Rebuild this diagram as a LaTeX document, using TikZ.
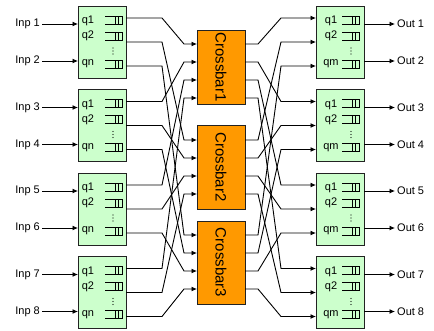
\documentclass[tikz,border=0pt]{standalone}
\usepackage{fontspec}
\setmainfont{Liberation Sans}
\usetikzlibrary{arrows.meta}
\definecolor{qgreen}{HTML}{CCFFCC}
\definecolor{xorange}{HTML}{FF9900}
\definecolor{edge}{HTML}{222222}
\begin{document}
\begin{tikzpicture}[x=1pt,y=-1pt,
  font=\fontsize{11}{13}\selectfont,
  qbox/.style={draw=edge, fill=qgreen, minimum width=48pt, minimum height=72pt,
    inner sep=0pt, outer sep=0pt, line width=0.8pt},
  xbar/.style={draw=edge, fill=xorange, minimum width=48pt,
    inner sep=0pt, outer sep=0pt, line width=0.8pt},
  qlab/.style={inner sep=0pt},
  feed/.style={line width=0.9pt, -{Latex[length=5.5pt,width=5pt]}},
  queue/.pic={
    \draw[line width=0.7pt] (-8.5,-4) -- (8.5,-4) -- (8.5,4) -- (-8.5,4);
    \draw[line width=0.7pt] (1.5,-4) -- (1.5,4) (5,-4) -- (5,4);
  },
  vdots/.pic={
    \fill (0,-3) circle (0.6) (0,0) circle (0.6) (0,3) circle (0.6);
  }
]
\useasboundingbox (0,0) rectangle (434,330);

% bend columns of the interconnect
\coordinate (bendL1) at (162,0);
\coordinate (bendL2) at (184,0);
\coordinate (bendR1) at (258,0);
\coordinate (bendR2) at (281,0);

% input and output switches with their queues
\foreach \i/\t in {1/6,2/89.5,3/173,4/256.5} {
  \node[qbox, anchor=north west] (L\i) at (78,\t) {};
  \node[qbox, anchor=north west] (R\i) at (316,\t) {};
  \node[qlab] (L\i-q1) at (88,\t+15) {q1};
  \node[qlab] (L\i-q2) at (88,\t+30) {q2};
  \node[qlab] (L\i-qn) at (88,\t+58) {qn};
  \node[qlab] (R\i-q1) at (331,\t+15) {q1};
  \node[qlab] (R\i-q2) at (331,\t+30) {q2};
  \node[qlab] (R\i-qm) at (331,\t+58) {qm};
  \pic at (113.5,\t+14) {queue};
  \pic at (113.5,\t+30) {queue};
  \pic at (113.5,\t+58) {queue};
  \pic at (350.5,\t+14) {queue};
  \pic at (350.5,\t+30) {queue};
  \pic at (350.5,\t+58) {queue};
  \pic at (113,\t+45) {vdots};
  \pic at (351,\t+45) {vdots};
  \foreach \j in {1,2,3} {
    \coordinate (L\i-\j) at (126,\t+12+24*\j-24);
    \coordinate (R\i-\j) at (316,\t+12+24*\j-24);
  }
}

% external inputs and outputs
\foreach \i/\t [evaluate=\i as \a using int(2*\i-1), evaluate=\i as \b using int(2*\i)] in {1/6,2/89.5,3/173,4/256.5} {
  \node[anchor=east, inner sep=2pt] (in\a) at (42,\t+18) {Inp \a};
  \node[anchor=east, inner sep=2pt] (in\b) at (42,\t+55) {Inp \b};
  \node[anchor=west, inner sep=2pt] (out\a) at (395,\t+18) {Out \a};
  \node[anchor=west, inner sep=2pt] (out\b) at (395,\t+55) {Out \b};
  \draw[feed] (in\a) -- (in\a -| L\i.west);
  \draw[feed] (in\b) -- (in\b -| L\i.west);
  \draw[feed] (out\a -| R\i.east) -- (out\a);
  \draw[feed] (out\b -| R\i.east) -- (out\b);
}

% crossbars
\foreach \j/\t/\h/\p in {1/30/74/44, 2/125/84/140, 3/221/83/235} {
  \node[xbar, minimum height=\h pt, anchor=north west] (C\j) at (197,\t) {};
  \node[rotate=-90, inner sep=0pt, font=\fontsize{15}{18}\selectfont] (C\j-name) at (C\j.center) {Crossbar\j};
  \foreach \i in {1,...,4} {
    \coordinate (C\j-in\i) at (197,\p+18*\i-18);
    \coordinate (C\j-out\i) at (245,\p+18*\i-18);
  }
}

% three-stage interconnect
\foreach \i in {1,...,4} {
  \foreach \j in {1,2,3} {
    \draw[feed] (L\i-\j) -- (L\i-\j -| bendL1) -- (C\j-in\i -| bendL2) -- (C\j-in\i);
    \draw[feed] (C\j-out\i) -- (C\j-out\i -| bendR1) -- (R\i-\j -| bendR2) -- (R\i-\j);
  }
}
\end{tikzpicture}
\end{document}
